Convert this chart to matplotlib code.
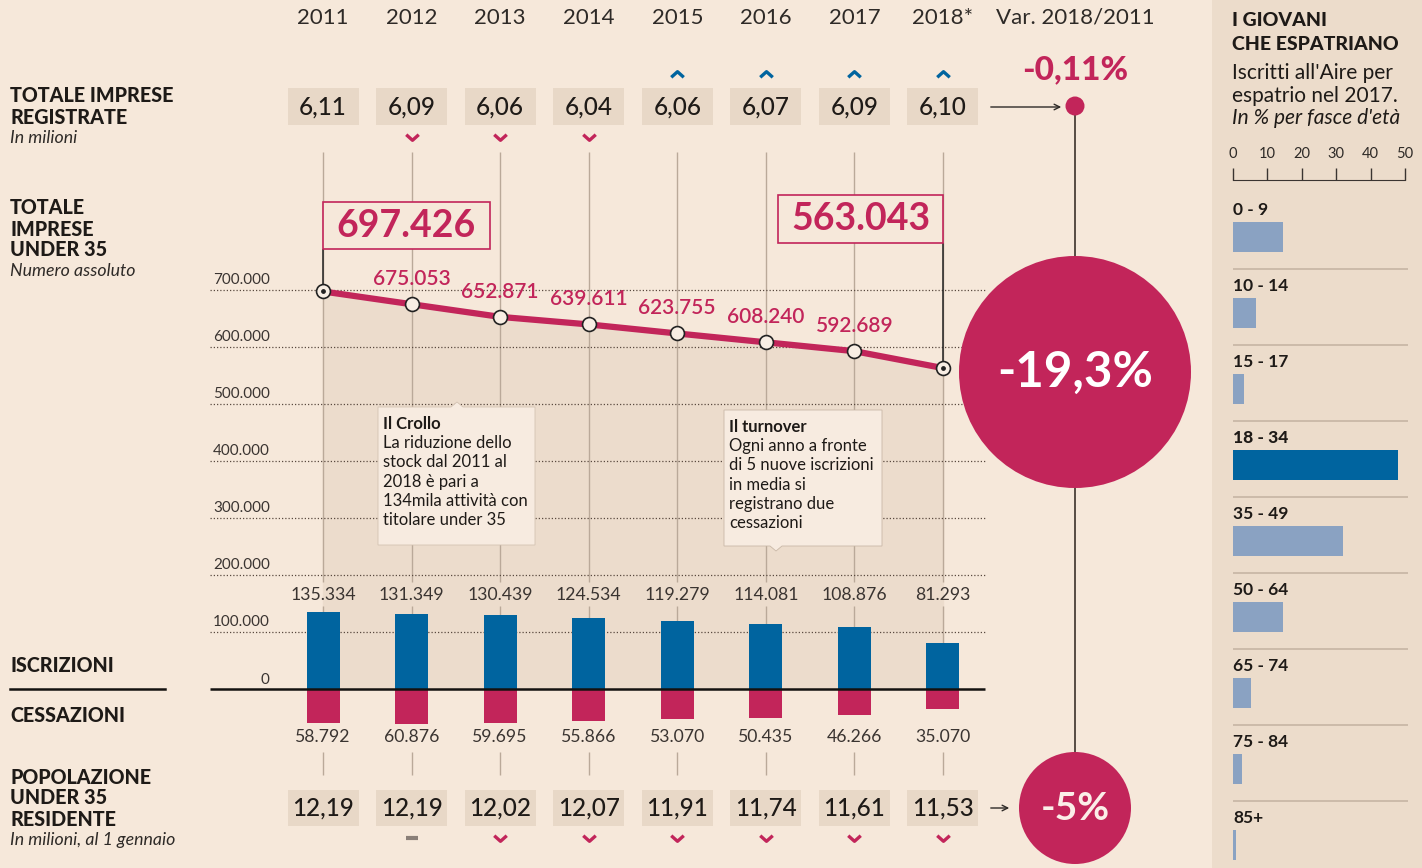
import matplotlib
matplotlib.use('Agg')
import matplotlib.pyplot as plt
from matplotlib.patches import Rectangle, Circle, Polygon
from matplotlib.path import Path
import numpy as np

plt.rcParams['font.family'] = ['Lato', 'DejaVu Sans']

# ---- data ----
years = ['2011', '2012', '2013', '2014', '2015', '2016', '2017', '2018*']
imprese_totali = ['6,11', '6,09', '6,06', '6,04', '6,06', '6,07', '6,09', '6,10']
trend_totali = [None, 'down', 'down', 'down', 'up', 'up', 'up', 'up']
under35 = [697426, 675053, 652871, 639611, 623755, 608240, 592689, 563043]
iscrizioni = [135334, 131349, 130439, 124534, 119279, 114081, 108876, 81293]
cessazioni = [58792, 60876, 59695, 55866, 53070, 50435, 46266, 35070]
popolazione = ['12,19', '12,19', '12,02', '12,07', '11,91', '11,74', '11,61', '11,53']
trend_pop = [None, 'flat', 'down', 'down', 'down', 'down', 'down', 'down']
grid_vals = [700000, 600000, 500000, 400000, 300000, 200000, 100000]
var_totali = '-0,11%'
var_under35 = '-19,3%'
var_pop = '-5%'

note_crollo = ['La riduzione dello', 'stock dal 2011 al', '2018 è pari a',
               '134mila attività con', 'titolare under 35']
note_turnover = ['Ogni anno a fronte', 'di 5 nuove iscrizioni', 'in media si',
                 'registrano due', 'cessazioni']

fasce = ['0 - 9', '10 - 14', '15 - 17', '18 - 34', '35 - 49', '50 - 64', '65 - 74', '75 - 84', '85+']
fasce_pct = [14.5, 6.6, 3.1, 48, 32, 14.4, 5.2, 2.6, 0.9]

# ---- colours ----
bg = '#f6e8da'
panel_bg = '#ecdccb'
box_c = '#e8d8c7'
shade = '#ecdccc'
note_c = '#f7ebe0'
crimson = '#c2255a'
blue = '#00649f'
light_blue = '#8aa2c2'
dark = '#1e1a17'
vline_c = '#baa999'


def fmt(v):
    return f'{v:,}'.replace(',', '.')


# pixel layout of the chart area
X0, DX = 323, 88.57
Y0, DY = 689, 57 / 1e5


def col(px):
    return (px - X0) / DX


def row(py):
    return (Y0 - py) / DY


fig = plt.figure(figsize=(14.22, 8.68), dpi=100, facecolor=bg)

ax = fig.add_axes([0, 0, 1, 1], zorder=1)
ax.set_xlim(col(0), col(1422))
ax.set_ylim(row(868), row(0))
ax.axis('off')

x = np.arange(len(years))

# year headers
for i, y in enumerate(years):
    ax.text(i, row(18), y, ha='center', va='center', fontsize=16, color='#2e2a27')

# vertical year lines
ax.vlines(x, row(582), row(152), color=vline_c, lw=1, zorder=1.5)
ax.vlines(x, 0, row(606), color=vline_c, lw=1, zorder=1.5)
ax.vlines(x, row(775), row(752), color=vline_c, lw=1, zorder=1.5)

# shaded area + grid
ax.fill_between(x, under35, 0, color=shade, zorder=1)
ax.hlines(grid_vals, col(210), col(985), colors='#5a4a40', linestyles=(0, (1, 1.6)), lw=0.9, zorder=2)
for g in grid_vals:
    ax.annotate(fmt(g), (col(213), g), xytext=(0, 2), textcoords='offset points',
                ha='left', va='bottom', fontsize=11, color='#3a3431')
ax.text(col(265), row(680), '0', ha='center', va='center', fontsize=11, color='#3a3431')
ax.hlines(0, col(210), col(985), color='#141210', lw=1.8, zorder=6)

# under 35 line
ax.plot(x, under35, color=crimson, lw=4.5, zorder=4, solid_capstyle='butt')
ax.scatter(x, under35, s=100, facecolor='#f8eee4', edgecolor='#222', lw=1.2, zorder=5)
ax.scatter([x[0], x[-1]], [under35[0], under35[-1]], s=6, color='#222', zorder=6)
for i in range(1, len(under35) - 1):
    ax.annotate(fmt(under35[i]), (i, under35[i]), xytext=(0, 18), textcoords='offset points',
                ha='center', va='center', fontsize=15, color=crimson, fontweight='semibold')

# highlighted first/last values
ax.vlines(0, under35[0], row(249), color='#222', lw=1.1, zorder=4)
ax.vlines(7, under35[-1], row(243), color='#222', lw=1.1, zorder=4)
ax.add_patch(Rectangle((0, row(249)), col(490), row(202) - row(249),
                       fc=bg, ec=crimson, lw=1.2, zorder=5))
ax.text(col(490) / 2, row(226), fmt(under35[0]), ha='center', va='center',
        fontsize=27, fontweight='bold', color=crimson, zorder=6)
ax.add_patch(Rectangle((col(778), row(243)), 7 - col(778), row(195) - row(243),
                       fc=bg, ec=crimson, lw=1.2, zorder=5))
ax.text((col(778) + 7) / 2, row(219), fmt(under35[-1]), ha='center', va='center',
        fontsize=27, fontweight='bold', color=crimson, zorder=6)

# iscrizioni / cessazioni
bw = 33 / DX
ax.bar(x, iscrizioni, width=bw, color=blue, zorder=3)
ax.bar(x, -np.array(cessazioni), width=bw, color=crimson, zorder=3)
for i in x:
    ax.text(i, row(595), fmt(iscrizioni[i]), ha='center', va='center', fontsize=12.7, color='#3a3431')
    ax.text(i, row(737), fmt(cessazioni[i]), ha='center', va='center', fontsize=12.7, color='#3a3431')

# value boxes
chev_down = Path([(-1, 0.45), (0, -0.45), (1, 0.45)], [Path.MOVETO, Path.LINETO, Path.LINETO])
chev_up = Path([(-1, -0.45), (0, 0.45), (1, -0.45)], [Path.MOVETO, Path.LINETO, Path.LINETO])
bwid = 71 / DX
for i in x:
    ax.add_patch(Rectangle((i - bwid / 2, row(125)), bwid, row(88) - row(125), fc=box_c, ec='none', zorder=5))
    ax.text(i, row(107), imprese_totali[i], ha='center', va='center', fontsize=17.5,
            fontweight='medium', color=dark, zorder=6)
    ax.add_patch(Rectangle((i - bwid / 2, row(826)), bwid, row(790) - row(826), fc=box_c, ec='none', zorder=5))
    ax.text(i, row(808), popolazione[i], ha='center', va='center', fontsize=17.5,
            fontweight='medium', color=dark, zorder=6)
    t = trend_totali[i]
    if t == 'down':
        ax.plot(i, row(137), marker=chev_down, ms=9, mfc='none', mec=crimson, mew=2.4, zorder=6)
    elif t == 'up':
        ax.plot(i, row(74), marker=chev_up, ms=9, mfc='none', mec=blue, mew=2.4, zorder=6)
    t = trend_pop[i]
    if t == 'down':
        ax.plot(i, row(838), marker=chev_down, ms=9, mfc='none', mec=crimson, mew=2.4, zorder=6)
    elif t == 'flat':
        ax.plot(i, row(838), marker='_', ms=9, mec='#8a7f78', mew=3, zorder=6)

# ---- overlay in pixel coords ----
ov = fig.add_axes([0, 0, 1, 1], zorder=2)
ov.set_xlim(0, 1422)
ov.set_ylim(868, 0)
ov.axis('off')
ov.patch.set_alpha(0)


def lines(xp, ys, texts, **kw):
    for yp, t in zip(ys, texts):
        ov.text(xp, yp, t, ha='left', va='center', **kw)


head = dict(fontsize=14.2, fontweight='black', color=dark)
sub = dict(fontsize=12.8, style='italic', color='#2e2a27')

# left labels
lines(10, [96, 117], ['TOTALE IMPRESE', 'REGISTRATE'], **head)
lines(10, [138], ['In milioni'], **sub)
lines(10, [208, 229, 250], ['TOTALE', 'IMPRESE', 'UNDER 35'], **head)
lines(10, [271], ['Numero assoluto'], **sub)
lines(10, [665], ['ISCRIZIONI'], **head)
ov.plot([10, 165], [689, 689], color='#141210', lw=1.8)
lines(10, [716], ['CESSAZIONI'], **head)
lines(10, [777, 798, 819], ['POPOLAZIONE', 'UNDER 35', 'RESIDENTE'], **head)
lines(10, [840], ['In milioni, al 1 gennaio'], **sub)

# note boxes
ov.add_patch(Polygon([(378, 407), (451, 407), (457, 402), (463, 407), (535, 407),
                      (535, 545), (378, 545)], closed=True, fc=note_c, ec='#d4c3b2', lw=0.6, zorder=3))
ov.text(383, 424, 'Il Crollo', ha='left', va='center', fontsize=12, fontweight='bold', color=dark, zorder=4)
for k, t in enumerate(note_crollo):
    ov.text(383, 443 + 19.3 * k, t, ha='left', va='center', fontsize=12, color=dark, zorder=4)
ov.add_patch(Polygon([(724, 410), (882, 410), (882, 546), (782, 546), (776, 551), (770, 546),
                      (724, 546)], closed=True, fc=note_c, ec='#c9b8a7', lw=0.6, zorder=3))
ov.text(729, 427, 'Il turnover', ha='left', va='center', fontsize=12, fontweight='bold', color=dark, zorder=4)
for k, t in enumerate(note_turnover):
    ov.text(729, 446 + 19.3 * k, t, ha='left', va='center', fontsize=12, color=dark, zorder=4)

# variation column
ov.text(1075, 18, 'Var. 2018/2011', ha='center', va='center', fontsize=16, color='#2e2a27')
ov.plot([1075, 1075], [106, 760], color='#4a3f38', lw=1.3, zorder=1)
ov.annotate('', xy=(1064, 107), xytext=(988, 107),
            arrowprops=dict(arrowstyle='->', color='#2e2a27', lw=1))
ov.add_patch(Circle((1075, 106), 9.5, fc=crimson, ec='none', zorder=2))
ov.text(1075, 70, var_totali, ha='center', va='center', fontsize=24, fontweight='black', color=crimson)
ov.add_patch(Circle((1075, 372), 116, fc=crimson, ec='none', zorder=2))
ov.text(1075, 372, var_under35, ha='center', va='center', fontsize=35.5, fontweight='bold',
        color='white', zorder=3)
ov.annotate('', xy=(1012, 808), xytext=(988, 808),
            arrowprops=dict(arrowstyle='->', color='#2e2a27', lw=1))
ov.add_patch(Circle((1075, 808), 56, fc=crimson, ec='none', zorder=2))
ov.text(1075, 808, var_pop, ha='center', va='center', fontsize=28, fontweight='bold',
        color='#fbeee8', zorder=3)

# right panel
ov.add_patch(Rectangle((1212, 0), 210, 868, fc=panel_bg, ec='none', zorder=0))
lines(1232, [20, 44], ['I GIOVANI', 'CHE ESPATRIANO'], fontsize=14, fontweight='black', color=dark)
lines(1232, [73, 96], ["Iscritti all'Aire per", 'espatrio nel 2017.'], fontsize=15, color=dark)
lines(1232, [118], ["In % per fasce d'età"], fontsize=15, style='italic', color=dark)

pan = fig.add_axes([1233 / 1422, 0, (1405 - 1233) / 1422, (868 - 180) / 868], zorder=3)
pan.patch.set_alpha(0)
pan.set_xlim(0, 50)
pan.set_ylim((868 - 237) / 76, (180 - 237) / 76)
for s in ['left', 'right', 'bottom']:
    pan.spines[s].set_visible(False)
pan.spines['top'].set_color('#3a3431')
pan.xaxis.tick_top()
pan.set_xticks([0, 10, 20, 30, 40, 50])
pan.tick_params(axis='x', direction='out', length=9, width=1, color='#3a3431',
                labelsize=10.5, labelcolor='#2e2a27', pad=5)
pan.set_yticks([])
yy = np.arange(len(fasce))
cols = [blue if f == '18 - 34' else light_blue for f in fasce]
pan.barh(yy, fasce_pct, height=30 / 76, color=cols)
pan.hlines(yy[:-1] + 0.42, 0, 51, color='#c6b5a4', lw=1.2, clip_on=False)
for i, f in enumerate(fasce):
    pan.text(0, i - 0.36, f, ha='left', va='center', fontsize=12.5,
             fontweight='black' if f == '18 - 34' else 'bold', color=dark)

fig.savefig('out.png', dpi=100, facecolor=bg)
